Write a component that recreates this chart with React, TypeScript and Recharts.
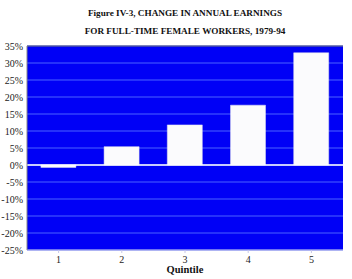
import React from "react";
import { BarChart, Bar, XAxis, YAxis, CartesianGrid, ReferenceLine } from "recharts";

const quintiles = ["1", "2", "3", "4", "5"];
const earningsChange = [-0.7, 5.4, 11.8, 17.6, 33.0];
const yTicks = [-25, -20, -15, -10, -5, 0, 5, 10, 15, 20, 25, 30, 35];
const titleLines = [
  "Figure IV-3, CHANGE IN ANNUAL EARNINGS",
  "FOR FULL-TIME FEMALE WORKERS, 1979-94",
];
const xTitle = "Quintile";

const data = quintiles.map((q, i) => ({ q, v: earningsChange[i] }));

const serif = "'Liberation Serif', 'Times New Roman', serif";

export default function App() {
  return (
    <div style={{ position: "absolute", left: 0, top: 0, width: 352, height: 279, background: "#ffffff", fontFamily: serif }}>
      <div style={{ position: "absolute", left: 27, width: 316, top: 4, textAlign: "center", fontWeight: "bold", fontSize: 9.2, lineHeight: "18px", color: "#111" }}>
        {titleLines.map((t) => (
          <div key={t}>{t}</div>
        ))}
      </div>
      <BarChart
        width={352}
        height={279}
        data={data}
        margin={{ top: 46, right: 9, left: 0, bottom: 9 }}
        barCategoryGap="22%"
      >
        <CartesianGrid vertical={false} fill="#0000f6" stroke="#4a62ff" strokeWidth={1} />
        <XAxis
          dataKey="q"
          height={20}
          tick={{ fontSize: 10, fill: "#222", fontFamily: serif }}
          tickLine={{ stroke: "#c8c8e8" }}
          tickSize={3}
          tickMargin={3}
          axisLine={{ stroke: "#b8b8e8" }}
        />
        <YAxis
          width={27}
          domain={[-25, 35]}
          ticks={yTicks}
          interval={0}
          tickFormatter={(v: number) => `${v}%`}
          tick={{ fontSize: 10, fill: "#222", fontFamily: serif }}
          tickLine={false}
          tickSize={0}
          tickMargin={4}
          axisLine={{ stroke: "#888" }}
        />
        <ReferenceLine y={35} stroke="#555577" strokeWidth={1} />
        <ReferenceLine y={0} stroke="#ffffff" strokeWidth={1.5} />
        <Bar dataKey="v" fill="#fbfbfd" stroke="#e4e4ec" strokeWidth={0.5} isAnimationActive={false} />
      </BarChart>
      <div style={{ position: "absolute", left: 27, width: 316, top: 264, textAlign: "center", fontWeight: "bold", fontSize: 10.5, color: "#111" }}>
        {xTitle}
      </div>
    </div>
  );
}
